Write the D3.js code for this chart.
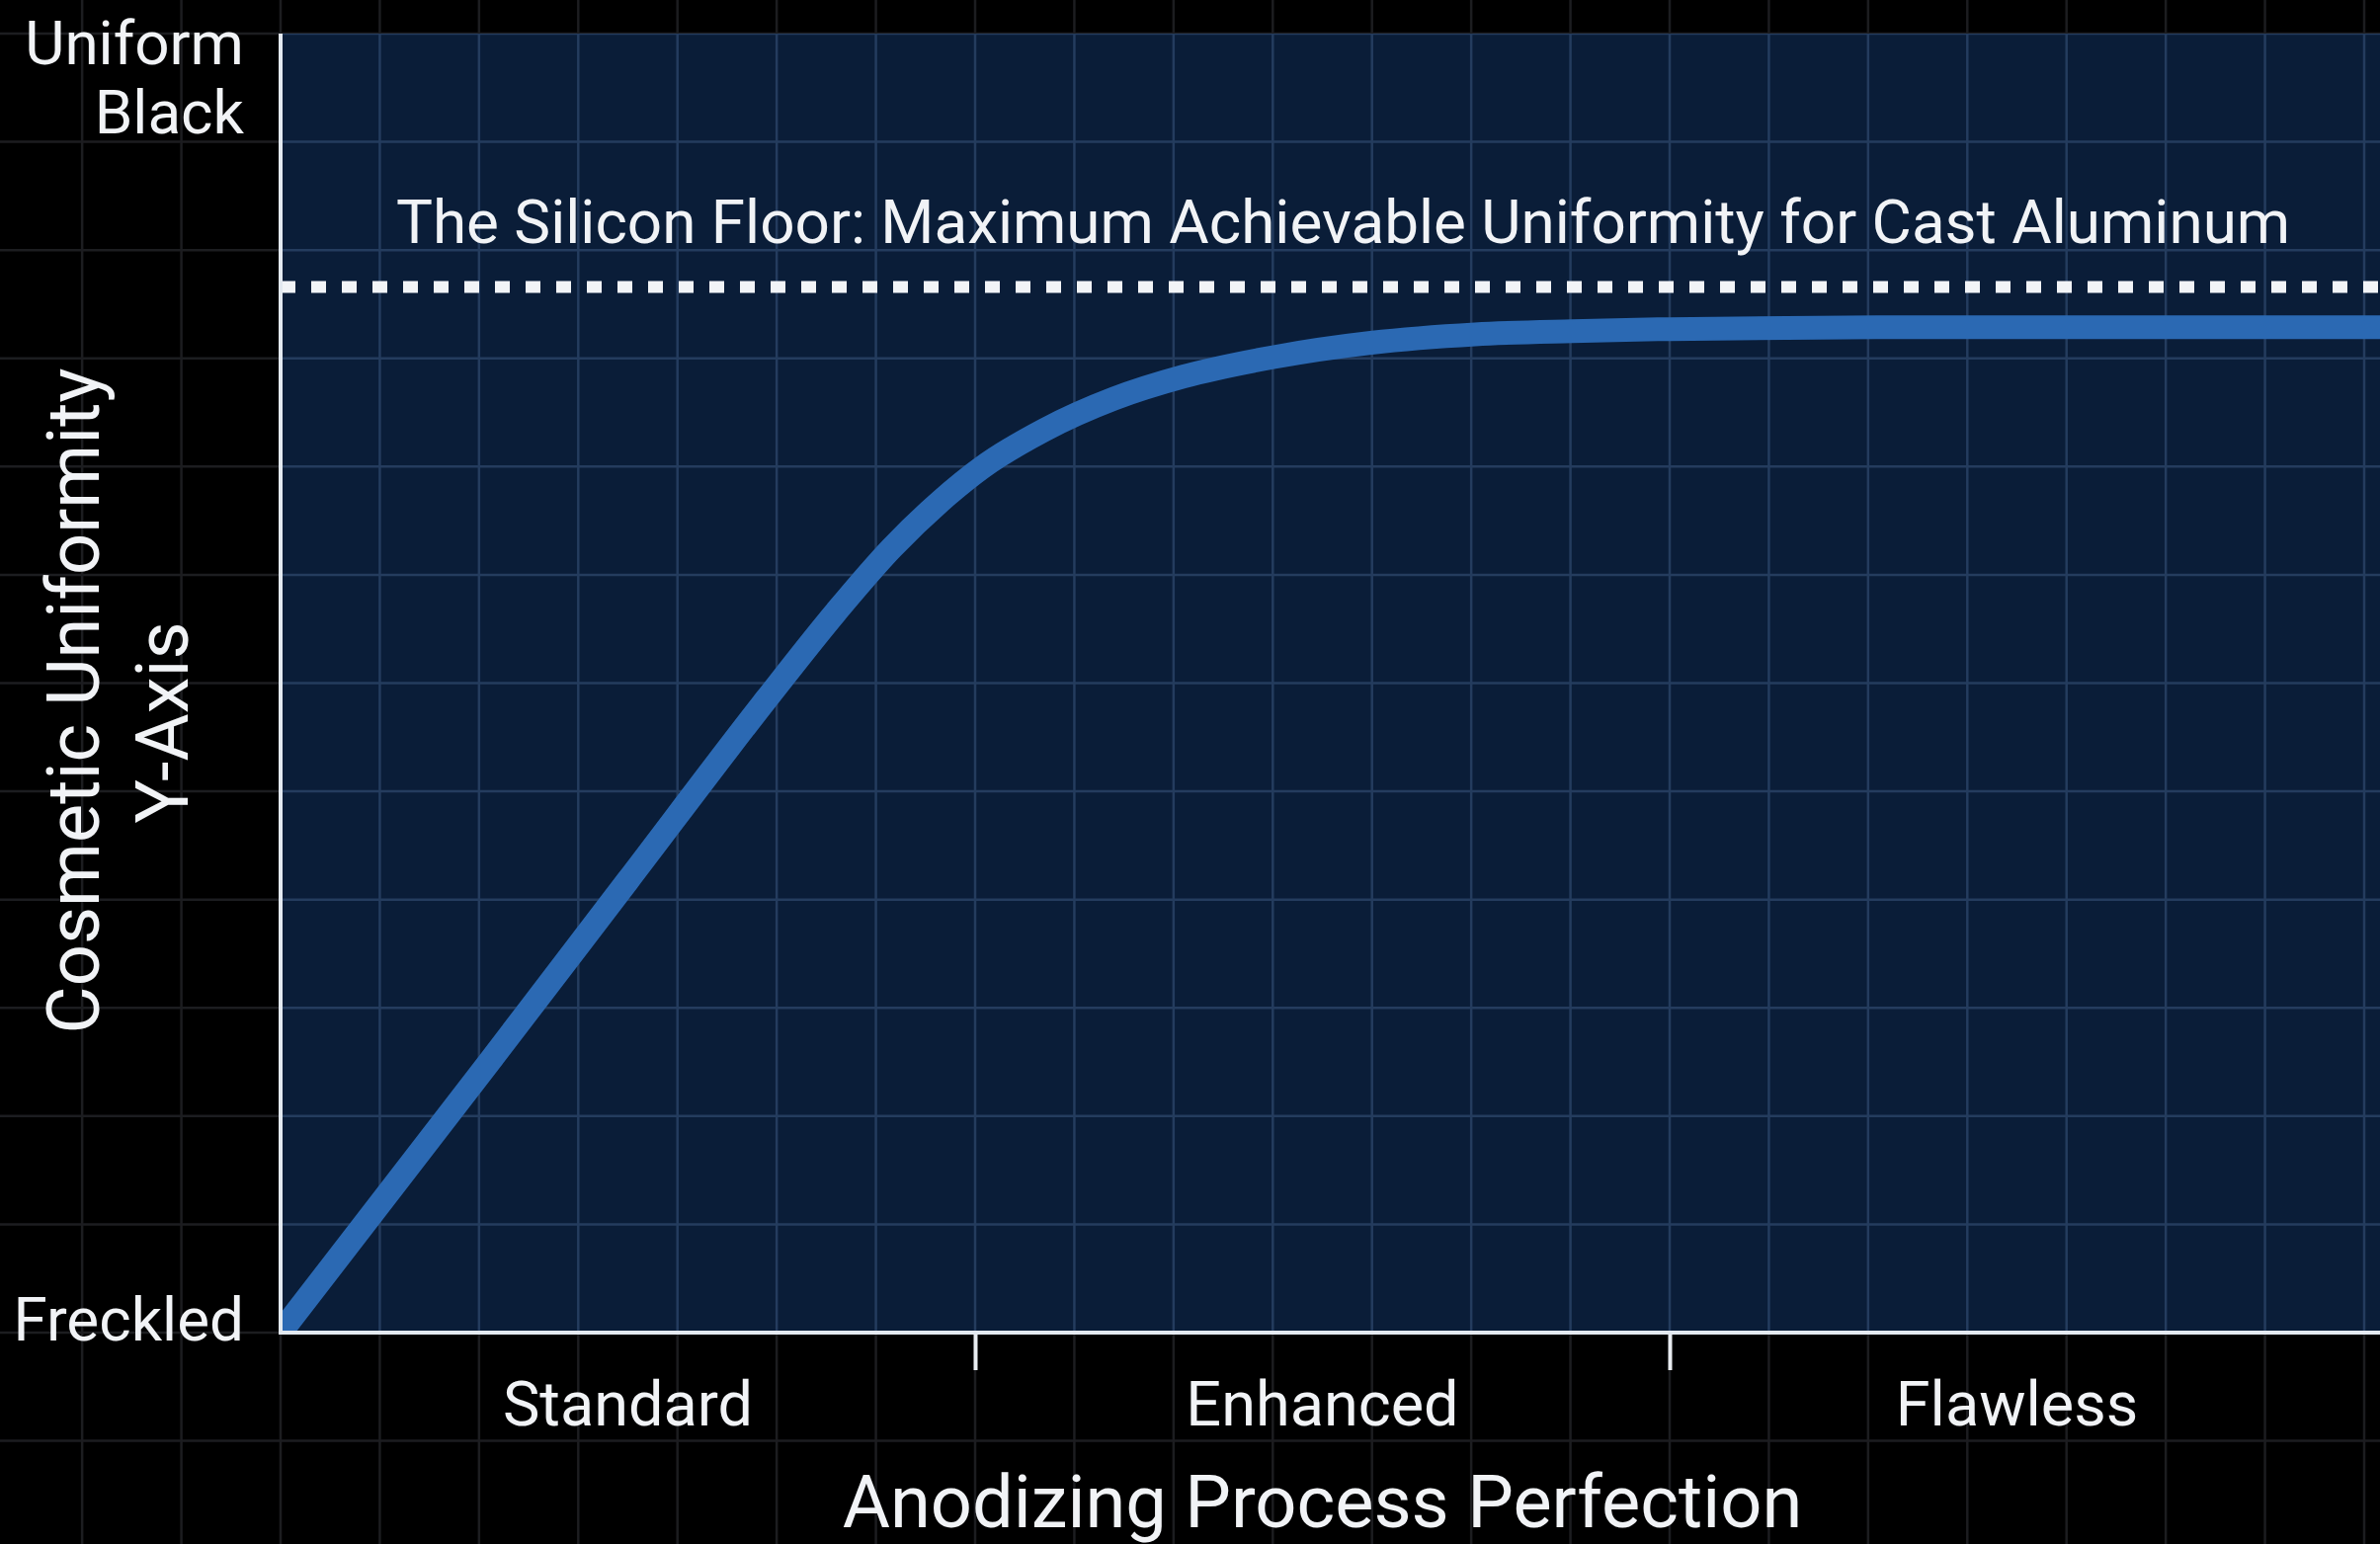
<!DOCTYPE html>
<html>
<head>
<meta charset="utf-8">
<script src="https://cdn.jsdelivr.net/npm/d3@7"></script>
<style>
  body { margin: 0; background: #000; }
  svg { display: block; }
  text { font-family: Roboto, "Noto Sans", sans-serif; fill: #f1f3f6; }
</style>
</head>
<body>
<script>
// data
const stages = ["Standard", "Enhanced", "Flawless"];
const yLevels = [0, 100];
const yLevelLabels = [["Freckled"], ["Uniform", "Black"]];
const perfection = [0, 0.30, 0.50, 0.70, 0.80, 0.88, 0.95, 1.01, 1.10, 1.20, 1.30, 1.43, 1.57, 1.72, 1.86, 2.00, 2.30, 2.70, 3.03];
const uniformity = [0, 20.8, 34.8, 48.8, 55.5, 60.4, 64.0, 66.6, 69.5, 71.9, 73.6, 75.1, 76.2, 76.85, 77.1, 77.25, 77.4, 77.4, 77.4];
const siliconFloor = 80.5;
const floorLabel = "The Silicon Floor: Maximum Achievable Uniformity for Cast Aluminum";
const xTitle = "Anodizing Process Perfection";
const yTitle = ["Cosmetic Uniformity", "Y-Axis"];

var W = 2409, H = 1563;
var margin = { top: 34, right: 16, bottom: 214, left: 284 },
    width = W - margin.left - margin.right,
    height = H - margin.top - margin.bottom;

var svg = d3.select("body").append("svg")
    .attr("width", W)
    .attr("height", H);

var x = d3.scaleLinear().domain([0, stages.length]).range([margin.left, margin.left + width]);
var band = d3.scaleBand().domain(stages).range([margin.left, margin.left + width]);
var y = d3.scaleLinear().domain([0, 100]).range([margin.top + height, margin.top]);

// background grid (7 cells per stage, 12 rows)
var stepX = band.bandwidth() / 7, stepY = height / 12;
var gx = d3.range(-3, 25).map(k => margin.left + k * stepX).filter(v => v >= 0 && v <= W);
var gy = d3.range(-1, 15).map(k => margin.top + k * stepY).filter(v => v >= 0 && v <= H);

function grid(g, color) {
    g.selectAll(".gv").data(gx).enter().append("line")
        .attr("x1", d => d).attr("x2", d => d).attr("y1", 0).attr("y2", H)
        .attr("stroke", color).attr("stroke-width", 2.5);
    g.selectAll(".gh").data(gy).enter().append("line")
        .attr("y1", d => d).attr("y2", d => d).attr("x1", 0).attr("x2", W)
        .attr("stroke", color).attr("stroke-width", 2.5);
}
grid(svg.append("g"), "#1c1d20");

svg.append("clipPath").attr("id", "plot")
    .append("rect")
    .attr("x", margin.left).attr("y", margin.top)
    .attr("width", W - margin.left).attr("height", height);

svg.append("rect")
    .attr("x", margin.left).attr("y", margin.top)
    .attr("width", W - margin.left).attr("height", height)
    .attr("fill", "#0a1d38");

grid(svg.append("g").attr("clip-path", "url(#plot)"), "#243c5e");

// silicon floor
svg.append("line")
    .attr("x1", margin.left).attr("x2", W)
    .attr("y1", y(siliconFloor)).attr("y2", y(siliconFloor))
    .attr("stroke", "#f2f4f7")
    .attr("stroke-width", 12)
    .attr("stroke-dasharray", "15 16");

svg.append("text")
    .attr("x", x(1.53))
    .attr("y", y(siliconFloor) - 44)
    .attr("text-anchor", "middle")
    .style("font-size", "62px")
    .text(floorLabel);

// curve
var line = d3.line()
    .x(d => x(d[0]))
    .y(d => y(d[1]))
    .curve(d3.curveMonotoneX);

svg.append("path")
    .datum(d3.zip(perfection, uniformity))
    .attr("clip-path", "url(#plot)")
    .attr("d", line)
    .attr("fill", "none")
    .attr("stroke", "#2b69b3")
    .attr("stroke-width", 24);

// axes
svg.append("g")
    .attr("transform", "translate(0," + (margin.top + height) + ")")
    .call(d3.axisBottom(x).tickValues(d3.range(1, stages.length)).tickSize(38).tickFormat(""))
    .call(g => g.select(".domain").remove())
    .selectAll("line").attr("stroke", "#e8ecf1").attr("stroke-width", 4);

svg.append("line")
    .attr("x1", margin.left).attr("x2", W)
    .attr("y1", margin.top + height).attr("y2", margin.top + height)
    .attr("stroke", "#e3e9f0").attr("stroke-width", 4);
svg.append("line")
    .attr("x1", margin.left).attr("x2", margin.left)
    .attr("y1", margin.top).attr("y2", margin.top + height + 2)
    .attr("stroke", "#e3e9f0").attr("stroke-width", 4);

// labels
svg.selectAll(".stage").data(stages).enter().append("text")
    .attr("class", "stage")
    .attr("x", d => band(d) + band.bandwidth() / 2)
    .attr("y", margin.top + height + 94)
    .attr("text-anchor", "middle")
    .style("font-size", "63px")
    .text(d => d);

yLevels.forEach((v, i) => {
    var lines = yLevelLabels[i];
    var t = svg.append("text")
        .attr("text-anchor", "end")
        .style("font-size", "62px");
    t.selectAll("tspan").data(lines).enter().append("tspan")
        .attr("x", margin.left - 37)
        .attr("y", (d, j) => lines.length > 1 ? y(v) + 31 + j * 70 : y(v) + 8)
        .text(d => d);
});

svg.append("text")
    .attr("x", x(stages.length / 2))
    .attr("y", H - 17)
    .attr("text-anchor", "middle")
    .style("font-size", "74px")
    .text(xTitle);

yTitle.forEach((t, i) => {
    svg.append("text")
        .attr("transform", "translate(" + (100 + i * 90) + "," + (margin.top + height / 2 + 18 + i * 22) + ") rotate(-90)")
        .attr("text-anchor", "middle")
        .style("font-size", "74px")
        .text(t);
});
</script>
</body>
</html>
